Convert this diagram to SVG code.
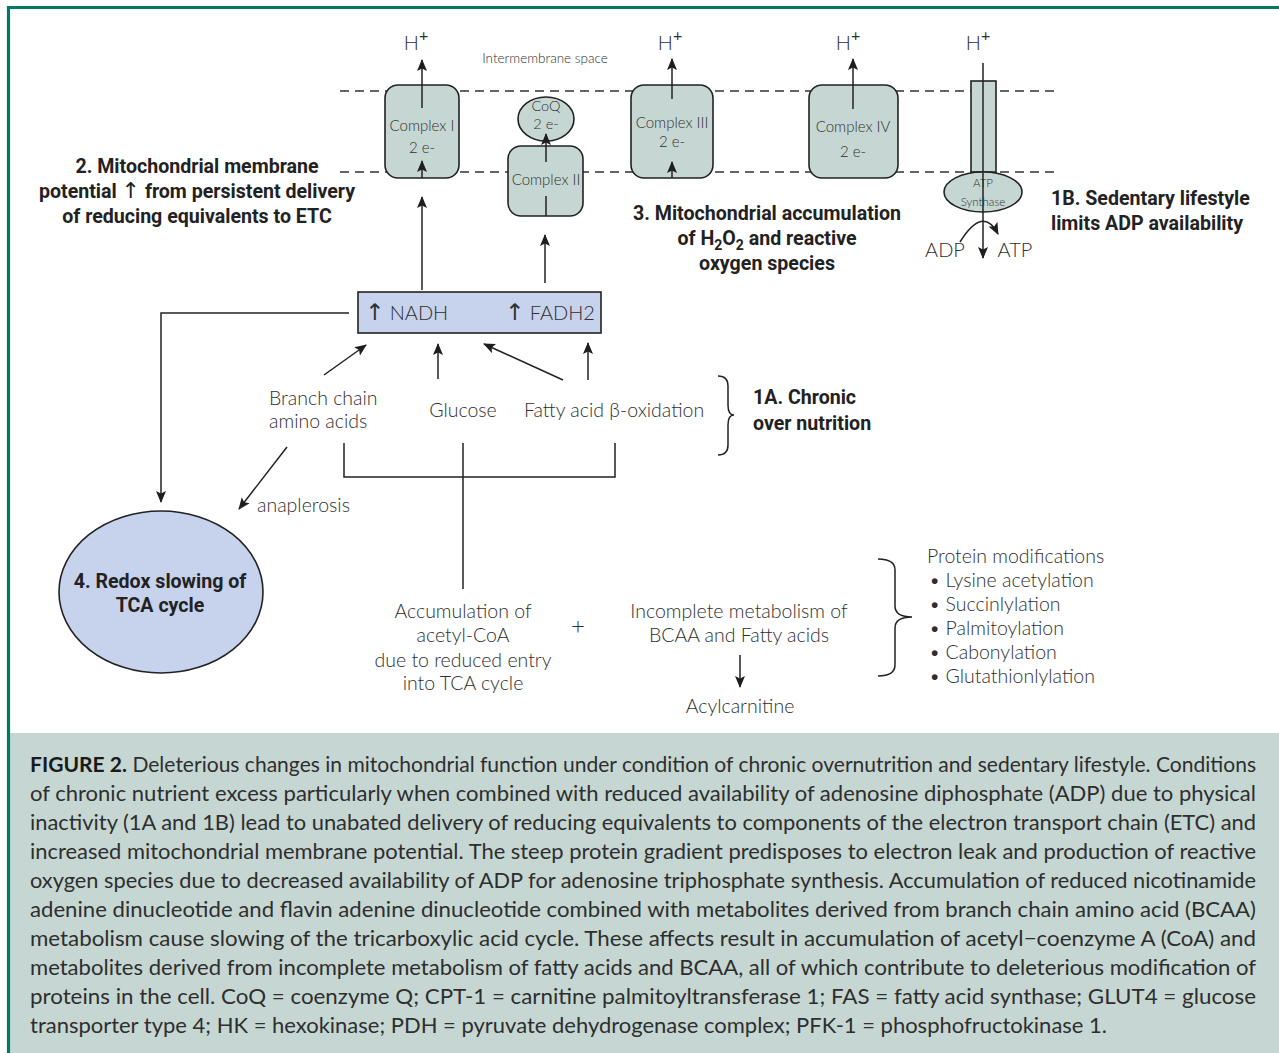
<svg xmlns="http://www.w3.org/2000/svg" width="1279" height="1053" viewBox="0 0 1279 1053">
<defs>
<marker id="ah" markerUnits="userSpaceOnUse" markerWidth="13" markerHeight="11" refX="11" refY="5" orient="auto">
<path d="M0,0 L12,5 L0,10 L2.5,5 z" fill="#1e1e1e"/>
</marker>
<style>
.t{font-family:Lato,"Open Sans","Liberation Sans",sans-serif;font-weight:300;fill:#2f2f2f}
.b{font-family:Roboto,"Liberation Sans",sans-serif;font-weight:bold;fill:#222;font-size:19.6px}
.up{font-family:"DejaVu Sans",sans-serif;font-weight:normal}
.sup{font-weight:normal;font-size:16px}
.cx{fill:#c6d7d3;stroke:#222;stroke-width:1.6}
.bl{fill:#c7d3ec;stroke:#222;stroke-width:1.6}
.ln{stroke:#222;stroke-width:1.5;fill:none}
.ar{stroke:#222;stroke-width:1.5;fill:none;marker-end:url(#ah)}
.dash{stroke:#333;stroke-width:1.3;stroke-dasharray:9 6;fill:none}
.cap{font-family:Lato,"Open Sans","Liberation Sans",sans-serif;font-size:21px;fill:#2e2e2e}
</style>
</defs>
<rect x="0" y="0" width="1279" height="1053" fill="#ffffff"/>
<rect x="8" y="733" width="1271" height="320" fill="#c6d7d3"/>
<path d="M8.5,1053 L8.5,7.5 L1279,7.5" fill="none" stroke="#007a63" stroke-width="3.2"/>

<g id="membrane">
<line class="dash" x1="340" y1="91" x2="1056" y2="91"/>
<line class="dash" x1="340" y1="172" x2="1056" y2="172"/>
<text class="t" x="545" y="63" font-size="13.5" text-anchor="middle">Intermembrane space</text>
</g>

<g id="complex1">
<rect class="cx" x="385" y="85" width="74" height="93" rx="13"/>
<text class="t" x="422" y="131" font-size="15" text-anchor="middle">Complex I</text>
<text class="t" x="422" y="153" font-size="15" text-anchor="middle">2 e-</text>
<text class="t" x="416" y="50" font-size="20" text-anchor="middle">H<tspan class="sup" dy="-9">+</tspan></text>
</g>

<g id="coq">
<ellipse class="cx" cx="546" cy="119" rx="28" ry="22"/>
<text class="t" x="546" y="111" font-size="14.5" text-anchor="middle">CoQ</text>
<text class="t" x="546" y="129" font-size="14.5" text-anchor="middle">2 e-</text>
</g>

<g id="complex2">
<rect class="cx" x="508" y="146" width="75" height="70" rx="13"/>
<text class="t" x="546" y="185" font-size="15" text-anchor="middle">Complex II</text>
</g>

<g id="complex3">
<rect class="cx" x="631" y="85" width="82" height="93" rx="13"/>
<text class="t" x="672" y="128" font-size="15" text-anchor="middle">Complex III</text>
<text class="t" x="672" y="147" font-size="15" text-anchor="middle">2 e-</text>
<text class="t" x="670" y="50" font-size="20" text-anchor="middle">H<tspan class="sup" dy="-9">+</tspan></text>
</g>

<g id="complex4">
<rect class="cx" x="809" y="85" width="89" height="93" rx="13"/>
<text class="t" x="853" y="132" font-size="15" text-anchor="middle">Complex IV</text>
<text class="t" x="853" y="157" font-size="15" text-anchor="middle">2 e-</text>
<text class="t" x="848" y="50" font-size="20" text-anchor="middle">H<tspan class="sup" dy="-9">+</tspan></text>
</g>

<g id="atp-synthase">
<rect class="cx" x="971" y="81" width="25" height="91"/>
<ellipse class="cx" cx="983" cy="192" rx="39" ry="20"/>
<text class="t" x="983" y="187" font-size="11.5" text-anchor="middle">ATP</text>
<text class="t" x="983" y="206" font-size="11.5" text-anchor="middle">Synthase</text>
<text class="t" x="978" y="50" font-size="20" text-anchor="middle">H<tspan class="sup" dy="-9">+</tspan></text>
<text class="t" x="945" y="257" font-size="20" text-anchor="middle">ADP</text>
<text class="t" x="1015" y="257" font-size="20" text-anchor="middle">ATP</text>
</g>

<g id="nadh-box">
<rect class="bl" x="358" y="292" width="243" height="41"/>
<text class="t" x="365" y="320" font-size="20"><tspan class="up" font-size="23">↑</tspan> NADH</text>
<text class="t" x="505" y="320" font-size="20"><tspan class="up" font-size="23">↑</tspan> FADH2</text>
</g>

<g id="label-2">
<text class="b" x="197" y="173" text-anchor="middle">2. Mitochondrial membrane</text>
<text class="b" x="197" y="198" text-anchor="middle">potential <tspan class="up" font-size="22">↑</tspan> from persistent delivery</text>
<text class="b" x="197" y="223" text-anchor="middle">of reducing equivalents to ETC</text>
</g>

<g id="label-3">
<text class="b" x="767" y="220" text-anchor="middle">3. Mitochondrial accumulation</text>
<text class="b" x="767" y="245" text-anchor="middle">of H<tspan dy="5" font-size="14">2</tspan><tspan dy="-5">O</tspan><tspan dy="5" font-size="14">2</tspan><tspan dy="-5"> and reactive</tspan></text>
<text class="b" x="767" y="270" text-anchor="middle">oxygen species</text>
</g>

<g id="label-1b">
<text class="b" x="1051" y="205">1B. Sedentary lifestyle</text>
<text class="b" x="1051" y="230">limits ADP availability</text>
</g>

<g id="substrates">
<text class="t" x="269" y="405" font-size="19.5">Branch chain</text>
<text class="t" x="269" y="428" font-size="19.5">amino acids</text>
<text class="t" x="463" y="417" font-size="19.5" text-anchor="middle">Glucose</text>
<text class="t" x="524" y="417" font-size="19.5">Fatty acid β-oxidation</text>
</g>

<g id="label-1a">
<path class="ln" d="M718,376 Q728,376 728,386 L728,405 Q728,415 734,415 Q728,415 728,425 L728,445 Q728,455 718,455"/>
<text class="b" x="753" y="404">1A. Chronic</text>
<text class="b" x="753" y="430">over nutrition</text>
</g>

<g id="tca">
<ellipse class="bl" cx="161" cy="592" rx="102" ry="81"/>
<text class="b" x="160" y="588" text-anchor="middle">4. Redox slowing of</text>
<text class="b" x="160" y="612" text-anchor="middle">TCA cycle</text>
</g>

<g id="anaplerosis">
<text class="t" x="257" y="512" font-size="19.5">anaplerosis</text>
</g>

<g id="acetyl-coa">
<text class="t" x="463" y="618" font-size="19.5" text-anchor="middle">Accumulation of</text>
<text class="t" x="463" y="642" font-size="19.5" text-anchor="middle">acetyl-CoA</text>
<text class="t" x="463" y="667" font-size="19.5" text-anchor="middle">due to reduced entry</text>
<text class="t" x="463" y="690" font-size="19.5" text-anchor="middle">into TCA cycle</text>
<text class="t" x="578" y="634" font-size="24" text-anchor="middle">+</text>
</g>

<g id="incomplete">
<text class="t" x="739" y="618" font-size="19.5" text-anchor="middle">Incomplete metabolism of</text>
<text class="t" x="739" y="642" font-size="19.5" text-anchor="middle">BCAA and Fatty acids</text>
</g>

<g id="acylcarnitine">
<text class="t" x="740" y="713" font-size="19.5" text-anchor="middle">Acylcarnitine</text>
</g>

<g id="protein-mods">
<path class="ln" d="M878,559 Q895,559 895,570 L895,606 Q895,617 912,617 Q895,617 895,628 L895,665 Q895,676 878,676"/>
<text class="t" x="927" y="563" font-size="19.5">Protein modifications</text>
<text class="t" x="929" y="587" font-size="19.5">• Lysine acetylation</text>
<text class="t" x="929" y="611" font-size="19.5">• Succinlylation</text>
<text class="t" x="929" y="635" font-size="19.5">• Palmitoylation</text>
<text class="t" x="929" y="659" font-size="19.5">• Cabonylation</text>
<text class="t" x="929" y="683" font-size="19.5">• Glutathionlylation</text>
</g>

<g id="connectors">
<line class="ar" x1="422" y1="108" x2="422" y2="60"/>
<line class="ar" x1="422" y1="178" x2="422" y2="161"/>
<line class="ar" x1="546" y1="162" x2="546" y2="134"/>
<line class="ln" x1="546" y1="196" x2="546" y2="216"/>
<line class="ar" x1="672" y1="99" x2="672" y2="59"/>
<line class="ar" x1="672" y1="178" x2="672" y2="162"/>
<line class="ar" x1="853" y1="109" x2="853" y2="59"/>
<line class="ar" x1="983" y1="63" x2="983" y2="258"/>
<path class="ar" d="M960,242 Q983,205 998,234"/>
<line class="ar" x1="422" y1="290" x2="422" y2="197"/>
<line class="ar" x1="545" y1="283" x2="545" y2="235"/>
<path class="ar" d="M349,313 L161,313 L161,502"/>
<line class="ar" x1="324" y1="375" x2="366" y2="345"/>
<line class="ar" x1="438" y1="379" x2="438" y2="344"/>
<line class="ar" x1="563" y1="380" x2="484" y2="344"/>
<line class="ar" x1="588" y1="380" x2="588" y2="343"/>
<path class="ln" d="M344,443 L344,477 L615,477 L615,443"/>
<line class="ln" x1="463" y1="443" x2="463" y2="589"/>
<line class="ar" x1="287" y1="447" x2="239" y2="509"/>
<line class="ar" x1="740" y1="655" x2="740" y2="687"/>
</g>

<g id="caption">
<text class="cap" x="30" y="772" textLength="1226" lengthAdjust="spacingAndGlyphs"><tspan font-weight="bold" fill="#1a1a1a">FIGURE 2.</tspan> Deleterious changes in mitochondrial function under condition of chronic overnutrition and sedentary lifestyle. Conditions</text>
<text class="cap" x="30" y="801" textLength="1226" lengthAdjust="spacingAndGlyphs">of chronic nutrient excess particularly when combined with reduced availability of adenosine diphosphate (ADP) due to physical</text>
<text class="cap" x="30" y="830" textLength="1226" lengthAdjust="spacingAndGlyphs">inactivity (1A and 1B) lead to unabated delivery of reducing equivalents to components of the electron transport chain (ETC) and</text>
<text class="cap" x="30" y="859" textLength="1226" lengthAdjust="spacingAndGlyphs">increased mitochondrial membrane potential. The steep protein gradient predisposes to electron leak and production of reactive</text>
<text class="cap" x="30" y="888" textLength="1226" lengthAdjust="spacingAndGlyphs">oxygen species due to decreased availability of ADP for adenosine triphosphate synthesis. Accumulation of reduced nicotinamide</text>
<text class="cap" x="30" y="917" textLength="1226" lengthAdjust="spacingAndGlyphs">adenine dinucleotide and flavin adenine dinucleotide combined with metabolites derived from branch chain amino acid (BCAA)</text>
<text class="cap" x="30" y="946" textLength="1226" lengthAdjust="spacingAndGlyphs">metabolism cause slowing of the tricarboxylic acid cycle. These affects result in accumulation of acetyl−coenzyme A (CoA) and</text>
<text class="cap" x="30" y="975" textLength="1226" lengthAdjust="spacingAndGlyphs">metabolites derived from incomplete metabolism of fatty acids and BCAA, all of which contribute to deleterious modification of</text>
<text class="cap" x="30" y="1004" textLength="1226" lengthAdjust="spacingAndGlyphs">proteins in the cell. CoQ = coenzyme Q; CPT-1 = carnitine palmitoyltransferase 1; FAS = fatty acid synthase; GLUT4 = glucose</text>
<text class="cap" x="30" y="1033" textLength="1077" lengthAdjust="spacingAndGlyphs">transporter type 4; HK = hexokinase; PDH = pyruvate dehydrogenase complex; PFK-1 = phosphofructokinase 1.</text>
</g>
</svg>
